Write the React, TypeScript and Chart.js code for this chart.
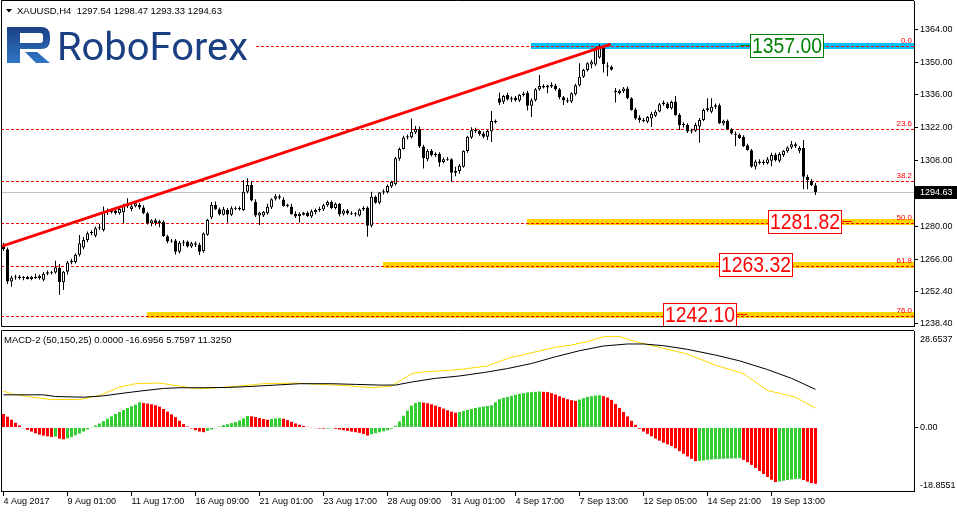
import React, { useEffect, useRef } from 'react';
import { Chart, registerables } from 'chart.js';

Chart.register(...registerables);

const FONT = "'Liberation Sans', Arial, sans-serif";

// ---------- price data (H4 candles, bar index = position) ----------
const opens = [
  1272.0, 1270.2, 1256.5, 1258.2, 1258.6, 1258.0, 1258.4, 1257.6, 1258.5, 1258.0,
  1257.2, 1259.8, 1260.4, 1260.3, 1262.4, 1256.2, 1260.7, 1264.6, 1264.8, 1267.9,
  1271.0, 1274.2, 1277.1, 1276.0, 1279.2, 1278.5, 1286.0, 1286.6, 1286.8, 1285.6,
  1286.0, 1288.6, 1287.4, 1288.6, 1289.2, 1288.0, 1285.6, 1281.3, 1282.6, 1281.4,
  1282.0, 1275.8, 1273.5, 1274.0, 1269.2, 1273.0, 1273.4, 1271.4, 1272.8, 1272.2,
  1269.4, 1276.4, 1283.8, 1289.1, 1287.3, 1285.0, 1287.0, 1285.0, 1287.7, 1287.3,
  1287.0, 1294.8, 1297.6, 1290.4, 1284.6, 1284.6, 1285.6, 1288.2, 1291.8, 1292.8,
  1291.4, 1288.7, 1288.4, 1285.4, 1284.4, 1285.0, 1285.8, 1284.2, 1286.0, 1287.0,
  1287.2, 1289.0, 1290.4, 1287.8, 1289.6, 1285.4, 1286.8, 1285.6, 1285.2, 1284.6,
  1287.2, 1288.0, 1280.3, 1292.6, 1290.1, 1294.4, 1294.6, 1297.0, 1298.0, 1308.8,
  1313.0, 1317.9, 1318.0, 1320.0, 1321.5, 1314.0, 1308.6, 1312.2, 1310.4, 1311.0,
  1307.4, 1308.6, 1308.6, 1302.8, 1303.6, 1305.4, 1312.1, 1317.9, 1321.0, 1320.6,
  1319.6, 1318.2, 1320.4, 1324.9, 1334.6, 1333.1, 1336.0, 1334.1, 1334.8, 1333.6,
  1336.0, 1336.8, 1331.4, 1333.8, 1338.4, 1339.8, 1339.2, 1340.4, 1340.0, 1338.4,
  1335.0, 1333.8, 1333.2, 1336.3, 1340.2, 1343.8, 1346.6, 1349.0, 1349.0, 1352.0,
  1356.2, 1348.6, 1348.0, 1337.8, 1336.8, 1337.6, 1338.8, 1334.6, 1329.8, 1326.4,
  1325.3, 1324.6, 1326.0, 1327.2, 1329.0, 1332.0, 1332.4, 1330.3, 1333.2, 1327.5,
  1323.2, 1323.2, 1320.4, 1320.8, 1322.6, 1325.3, 1329.6, 1328.8, 1331.0, 1331.6,
  1323.8, 1325.0, 1321.4, 1319.4, 1319.0, 1318.2, 1314.6, 1312.4, 1305.4, 1307.6,
  1307.0, 1307.0, 1308.0, 1310.6, 1308.0, 1310.4, 1312.0, 1313.6, 1315.0, 1312.2,
  1313.4, 1301.2, 1299.4, 1297.54,
];
const highs = [
  1273.0, 1271.0, 1259.0, 1259.4, 1259.2, 1258.8, 1259.0, 1258.9, 1259.8, 1259.5,
  1260.5, 1261.2, 1261.0, 1265.3, 1264.0, 1261.0, 1265.3, 1266.2, 1268.4, 1276.3,
  1275.5, 1277.8, 1278.4, 1279.9, 1281.0, 1288.5, 1287.6, 1287.5, 1287.6, 1288.0,
  1289.6, 1292.0, 1289.8, 1290.6, 1290.0, 1289.0, 1286.2, 1283.0, 1283.4, 1282.8,
  1282.6, 1276.4, 1274.6, 1274.6, 1273.8, 1274.2, 1274.0, 1273.4, 1273.6, 1273.0,
  1277.4, 1283.2, 1290.4, 1290.6, 1288.0, 1288.4, 1287.8, 1288.6, 1288.5, 1288.6,
  1299.8, 1300.5, 1299.2, 1291.6, 1286.2, 1286.6, 1289.6, 1292.0, 1293.8, 1293.6,
  1292.4, 1289.6, 1289.6, 1286.4, 1286.0, 1286.2, 1286.4, 1287.2, 1287.6, 1288.4,
  1289.6, 1291.0, 1291.0, 1290.2, 1290.0, 1287.4, 1287.4, 1286.4, 1286.0, 1287.6,
  1288.6, 1288.6, 1294.8, 1293.2, 1294.6, 1295.8, 1297.8, 1299.4, 1309.6, 1313.6,
  1318.6, 1319.2, 1326.0, 1322.8, 1322.6, 1314.8, 1313.0, 1313.0, 1311.6, 1311.6,
  1309.4, 1309.6, 1309.0, 1305.4, 1306.6, 1312.4, 1318.6, 1322.2, 1322.0, 1321.2,
  1320.4, 1321.2, 1329.2, 1325.6, 1337.1, 1336.0, 1337.0, 1335.4, 1335.6, 1336.4,
  1337.4, 1337.8, 1334.6, 1339.0, 1344.5, 1340.6, 1340.4, 1341.4, 1340.8, 1339.0,
  1335.6, 1334.8, 1337.2, 1340.8, 1349.5, 1347.2, 1350.0, 1351.0, 1356.4, 1357.6,
  1357.0, 1350.0, 1348.6, 1339.0, 1338.4, 1339.4, 1339.6, 1335.0, 1330.6, 1327.4,
  1326.2, 1327.0, 1328.8, 1329.6, 1332.6, 1333.6, 1333.0, 1333.6, 1335.6, 1328.2,
  1324.4, 1324.0, 1321.6, 1324.2, 1326.2, 1330.2, 1334.6, 1334.6, 1332.4, 1332.4,
  1325.4, 1325.6, 1321.8, 1320.4, 1319.6, 1318.8, 1315.2, 1313.0, 1308.4, 1308.6,
  1308.4, 1309.6, 1311.4, 1311.4, 1311.6, 1312.6, 1314.2, 1316.4, 1315.8, 1314.2,
  1316.8, 1302.0, 1300.2, 1298.47,
];
const lows = [
  1269.5, 1255.4, 1254.3, 1257.2, 1257.4, 1257.0, 1257.3, 1257.0, 1257.6, 1257.2,
  1256.6, 1259.2, 1259.5, 1259.8, 1250.8, 1252.9, 1259.5, 1263.8, 1264.2, 1267.2,
  1270.2, 1273.2, 1276.2, 1275.4, 1278.4, 1277.8, 1284.8, 1285.5, 1285.0, 1285.0,
  1281.3, 1287.8, 1286.4, 1288.0, 1287.2, 1285.2, 1280.8, 1280.0, 1280.4, 1279.6,
  1275.6, 1272.8, 1273.0, 1268.0, 1268.4, 1271.6, 1271.0, 1270.8, 1271.2, 1267.8,
  1268.8, 1276.0, 1283.0, 1287.0, 1284.6, 1284.6, 1281.6, 1284.4, 1287.0, 1286.8,
  1286.6, 1294.0, 1290.6, 1284.0, 1280.6, 1284.0, 1285.0, 1287.4, 1291.0, 1291.4,
  1288.4, 1288.2, 1285.0, 1283.6, 1281.6, 1284.6, 1284.0, 1283.6, 1285.2, 1286.2,
  1286.6, 1288.4, 1287.4, 1287.2, 1284.2, 1284.6, 1285.0, 1284.8, 1284.2, 1284.2,
  1286.6, 1275.6, 1279.6, 1289.6, 1289.4, 1293.6, 1294.0, 1296.4, 1297.4, 1308.0,
  1312.8, 1317.0, 1317.4, 1319.4, 1313.4, 1304.7, 1307.8, 1309.8, 1309.6, 1305.4,
  1306.8, 1308.0, 1299.0, 1301.4, 1302.4, 1305.0, 1311.4, 1317.2, 1319.8, 1318.6,
  1317.6, 1316.8, 1316.0, 1323.8, 1331.7, 1332.2, 1333.6, 1333.0, 1333.2, 1333.0,
  1335.4, 1329.4, 1326.6, 1333.2, 1337.8, 1338.8, 1336.7, 1339.0, 1337.8, 1334.2,
  1331.7, 1332.6, 1332.6, 1335.8, 1339.6, 1343.2, 1346.0, 1347.4, 1348.4, 1351.4,
  1345.6, 1344.0, 1346.4, 1332.8, 1336.2, 1336.8, 1334.2, 1329.4, 1325.4, 1324.2,
  1324.4, 1323.9, 1322.4, 1326.6, 1328.6, 1331.4, 1330.0, 1329.8, 1327.2, 1321.1,
  1322.0, 1319.8, 1319.6, 1320.2, 1315.6, 1324.8, 1328.8, 1328.2, 1330.0, 1323.6,
  1323.0, 1321.0, 1319.2, 1314.2, 1317.2, 1313.8, 1312.2, 1305.0, 1304.2, 1306.4,
  1306.2, 1306.4, 1305.6, 1307.6, 1307.2, 1309.6, 1311.4, 1313.0, 1313.4, 1311.2,
  1295.8, 1295.8, 1297.2, 1293.33,
];
const closes = [
  1270.2, 1256.5, 1258.2, 1258.6, 1258.0, 1258.4, 1257.6, 1258.5, 1258.0, 1259.0,
  1259.8, 1260.4, 1260.0, 1262.6, 1256.2, 1260.7, 1264.6, 1265.3, 1267.9, 1272.8,
  1274.2, 1277.1, 1277.6, 1279.2, 1279.6, 1286.3, 1286.6, 1286.0, 1285.6, 1287.4,
  1288.8, 1289.6, 1288.6, 1289.8, 1288.0, 1285.6, 1281.3, 1282.6, 1281.4, 1282.2,
  1275.8, 1273.5, 1274.0, 1269.2, 1273.0, 1273.4, 1271.4, 1272.8, 1272.2, 1269.2,
  1277.0, 1282.7, 1289.1, 1287.3, 1285.2, 1287.3, 1285.0, 1287.7, 1287.3, 1287.9,
  1294.8, 1297.6, 1291.0, 1284.6, 1285.8, 1286.2, 1288.4, 1291.6, 1292.8, 1292.2,
  1288.7, 1289.0, 1285.2, 1284.2, 1285.4, 1285.8, 1284.4, 1286.4, 1287.0, 1287.4,
  1289.0, 1290.4, 1287.8, 1289.6, 1285.2, 1286.8, 1285.6, 1285.2, 1285.6, 1287.2,
  1287.8, 1280.3, 1292.6, 1290.1, 1294.4, 1295.0, 1297.2, 1299.0, 1309.0, 1313.0,
  1317.9, 1318.4, 1320.3, 1321.5, 1314.0, 1309.0, 1312.2, 1310.4, 1311.0, 1307.2,
  1308.6, 1308.2, 1302.8, 1303.6, 1305.8, 1312.1, 1318.2, 1321.0, 1320.6, 1319.4,
  1318.2, 1320.6, 1324.9, 1324.4, 1332.7, 1335.6, 1334.1, 1334.6, 1333.8, 1336.0,
  1336.6, 1331.4, 1333.8, 1338.4, 1339.8, 1339.2, 1340.0, 1339.6, 1338.4, 1335.0,
  1333.8, 1333.2, 1336.7, 1340.2, 1343.8, 1346.6, 1349.5, 1350.2, 1355.4, 1356.4,
  1349.2, 1348.0, 1346.8, 1337.2, 1337.8, 1338.8, 1334.6, 1329.6, 1326.0, 1325.3,
  1324.8, 1326.6, 1328.0, 1328.8, 1332.0, 1332.8, 1330.3, 1333.0, 1327.5, 1323.2,
  1323.6, 1320.4, 1321.0, 1323.2, 1325.3, 1329.6, 1330.3, 1331.0, 1331.6, 1323.9,
  1325.0, 1321.4, 1319.6, 1319.0, 1317.6, 1314.2, 1312.6, 1305.4, 1307.6, 1307.0,
  1307.4, 1308.6, 1310.4, 1308.2, 1310.8, 1312.2, 1313.6, 1315.0, 1314.2, 1313.4,
  1301.2, 1299.8, 1297.5, 1294.63,
];

// ---------- MACD-2 (50,150,25) ----------
const histValues = [
  4.0, 3.2, 2.3, 1.4, 0.6, -0.2, -0.7, -1.2, -1.7, -2.1,
  -2.4, -2.6, -2.8, -2.7, -3.3, -3.5, -3.2, -2.8, -2.3, -1.8,
  -1.2, -0.6, 0.1, 0.6, 1.2, 1.9, 2.6, 3.3, 4.0, 4.6,
  5.2, 5.8, 6.3, 6.8, 7.5, 7.3, 7.1, 6.9, 6.6, 6.2,
  5.5, 4.7, 3.9, 3.1, 2.0, 1.0, 0.3, -0.3, -0.8, -1.2,
  -1.4, -1.0, -0.6, -0.2, 0.3, 0.7, 1.0, 1.3, 1.6, 2.1,
  2.7, 3.4, 3.3, 3.1, 2.8, 2.5, 2.3, 2.5, 2.7, 2.8,
  2.6, 2.2, 1.7, 1.2, 0.8, 0.5, 0.2, -0.1, -0.2, -0.3,
  -0.35, -0.3, -0.25, -0.4, -0.6, -0.8, -1.0, -1.2, -1.4, -1.6,
  -1.9, -2.4, -2.0, -1.7, -1.4, -1.1, -0.8, -0.4, 0.5, 1.8,
  3.5, 5.0, 6.5, 7.3, 7.6, 7.4, 7.2, 6.9, 6.5, 6.1,
  5.6, 5.1, 4.7, 4.4, 4.6, 4.9, 5.2, 5.5, 5.8, 6.0,
  6.2, 6.4, 6.6, 7.5, 8.4, 8.8, 9.1, 9.4, 9.7, 10.0,
  10.2, 10.4, 10.5, 10.6, 10.7, 10.6, 10.5, 10.2, 9.8, 9.3,
  8.8, 8.4, 8.1, 7.9, 8.3, 8.7, 9.1, 9.3, 9.5, 9.6,
  9.3, 8.9, 8.2, 7.0, 5.8, 4.6, 3.3, 2.0, 0.8, -0.4,
  -1.2, -1.9, -2.6, -3.3, -3.9, -4.5, -5.0, -5.5, -6.2, -7.0,
  -7.8, -8.6, -9.3, -10.0, -9.9, -9.8, -9.6, -9.5, -9.4, -9.35,
  -9.3, -9.25, -9.2, -9.15, -9.1, -9.6, -10.3, -11.1, -12.0, -12.9,
  -13.8, -14.7, -15.5, -16.2, -16.0, -15.8, -15.6, -15.4, -15.3, -15.2,
  -15.6, -16.1, -16.5, -16.6956,
];
const blackLineIdx = [0, 10, 13, 20, 25, 30, 34, 40, 44, 50, 56, 62, 68, 74, 82, 88, 94, 98, 102, 108, 114, 120, 126, 132, 138, 144, 150, 156, 160, 165, 171, 178, 184, 191, 197, 203];
const blackLineVals = [9.7, 9.7, 9.2, 9.0, 9.4, 10.2, 10.8, 11.6, 11.8, 11.8, 11.9, 12.2, 12.6, 13.0, 13.0, 12.8, 12.6, 12.6, 13.5, 14.6, 15.3, 16.3, 17.5, 19.0, 21.0, 22.8, 24.2, 24.8, 24.8, 24.3, 23.2, 21.5, 19.8, 17.2, 14.6, 11.325];
const goldLineIdx = [0, 2, 7, 12, 19, 24, 29, 33, 39, 44, 48, 52, 59, 65, 73, 79, 85, 92, 97, 102, 105, 112, 116, 121, 126, 132, 138, 142, 146, 150, 154, 158, 165, 171, 178, 185, 191, 198, 203];
const goldLineVals = [10.8, 10.0, 9.0, 8.3, 8.3, 9.5, 12.0, 13.0, 13.2, 12.3, 11.5, 11.7, 12.3, 13.0, 13.2, 12.8, 12.5, 11.8, 12.3, 16.0, 16.5, 17.0, 17.5, 18.3, 20.5, 22.2, 23.8, 24.5, 25.5, 27.0, 27.0, 25.5, 23.5, 21.8, 18.5, 16.0, 11.0, 9.0, 5.7597];

// ---------- axes / annotations ----------
const priceTicks = [1364, 1350, 1336, 1322, 1308, 1280, 1266, 1252.4, 1238.4];
const lastPrice = 1294.63;
const macdTickValues = [28.6537, 0, -18.8551];
const macdTickLabels = ['28.6537', '0.00', '-18.8551'];
const timeTickIdx = [0, 16, 32, 48, 64, 80, 96, 112, 128, 144, 160, 176, 192];
const timeTickLabels = ['4 Aug 2017', '9 Aug 01:00', '11 Aug 17:00', '16 Aug 09:00', '21 Aug 01:00', '23 Aug 17:00', '28 Aug 09:00', '31 Aug 01:00', '4 Sep 17:00', '7 Sep 13:00', '12 Sep 05:00', '14 Sep 21:00', '19 Sep 13:00'];

const fibRatios = ['0.0', '23.6', '38.2', '50.0', '61.8', '76.0'];
const fibLevels = [1357.0, 1321.4, 1299.3, 1281.5, 1263.3, 1241.9];
const bandLevels = [1357.0, 1281.82, 1263.32, 1242.1];
const bandStartIdx = [131.9, 130.9, 94.9, 35.9];
const bandColors = ['#00BFFF', '#FFD400', '#FFD400', '#FFD400'];
const labelTexts = ['1357.00', '1281.82', '1263.32', '1242.10'];
const labelStartIdx = [186.6, 191.05, 178.9, 164.95];
const labelColors = ['#008000', '#FF0000', '#FF0000', '#FF0000'];
const labelDashSide = ['left', 'right', 'none', 'right'];
const trendIdx = [-1, 151.8];
const trendPrice = [1271.2, 1357.7];

const titleText = 'XAUUSD,H4  1297.54 1298.47 1293.33 1294.63';
const macdText = 'MACD-2 (50,150,25) 0.0000 -16.6956 5.7597 11.3250';

const X_MIN = -0.625;
const X_MAX = 227.625;
const PRICE_MIN = 1237.53;
const PRICE_MAX = 1376.06;

function drawLogo(ctx: CanvasRenderingContext2D) {
  ctx.save();
  ctx.fillStyle = '#FFFFFF';
  ctx.fillRect(2, 19, 252, 48);
  const g = ctx.createLinearGradient(0, 26, 0, 64);
  g.addColorStop(0, '#1a3f82');
  g.addColorStop(1, '#2f78c8');
  ctx.fillStyle = g;
  ctx.beginPath();
  ctx.moveTo(7, 27);
  ctx.lineTo(41, 27);
  ctx.quadraticCurveTo(50, 27, 50, 36);
  ctx.lineTo(50, 40);
  ctx.quadraticCurveTo(50, 49, 41, 49);
  ctx.lineTo(20, 49);
  ctx.lineTo(20, 63);
  ctx.lineTo(7, 63);
  ctx.closePath();
  ctx.moveTo(20, 33);
  ctx.lineTo(20, 43);
  ctx.lineTo(40, 43);
  ctx.quadraticCurveTo(43, 43, 43, 40);
  ctx.lineTo(43, 36);
  ctx.quadraticCurveTo(43, 33, 40, 33);
  ctx.closePath();
  ctx.fill('evenodd');
  ctx.beginPath();
  ctx.moveTo(25, 52);
  ctx.lineTo(37, 52);
  ctx.lineTo(50, 63);
  ctx.lineTo(36, 63);
  ctx.closePath();
  ctx.fill();
  ctx.font = "39px Roboto, 'Liberation Sans', sans-serif";
  ctx.textBaseline = 'alphabetic';
  ctx.textAlign = 'left';
  const w = ctx.measureText('RoboForex').width;
  ctx.translate(57, 60);
  ctx.scale(191 / w, 1);
  ctx.fillText('RoboForex', 0, 0);
  ctx.restore();
}

const mainDecor = {
  id: 'mainDecor',
  beforeDraw(chart: any) {
    const ctx = chart.ctx;
    ctx.save();
    ctx.fillStyle = '#FFFFFF';
    ctx.fillRect(0, 0, chart.width, chart.height);
    ctx.restore();
  },
  beforeDatasetsDraw(chart: any) {
    // level bands, fibonacci levels and last-price line (snapped to whole pixels)
    const ctx: CanvasRenderingContext2D = chart.ctx;
    const xs = chart.scales.x;
    const ys = chart.scales.y;
    const area = chart.chartArea;
    ctx.save();
    ctx.beginPath();
    ctx.rect(area.left, area.top, area.right - area.left, area.bottom - area.top);
    ctx.clip();
    bandLevels.forEach((lv, i) => {
      const y = Math.round(ys.getPixelForValue(lv));
      const x0 = Math.round(xs.getPixelForValue(bandStartIdx[i]));
      ctx.fillStyle = bandColors[i];
      ctx.fillRect(x0, y - 3, area.right - x0, 6);
    });
    ctx.strokeStyle = '#C0C0C0';
    ctx.lineWidth = 1;
    ctx.beginPath();
    const yl = Math.round(ys.getPixelForValue(lastPrice)) + 0.5;
    ctx.moveTo(area.left, yl);
    ctx.lineTo(area.right, yl);
    ctx.stroke();
    ctx.strokeStyle = '#FF0000';
    ctx.setLineDash([3, 2]);
    fibLevels.forEach((lv) => {
      const y = Math.round(ys.getPixelForValue(lv)) + 0.5;
      ctx.beginPath();
      ctx.moveTo(area.left, y);
      ctx.lineTo(area.right, y);
      ctx.stroke();
    });
    ctx.restore();
  },
  afterDatasetsDraw(chart: any) {
    const ctx: CanvasRenderingContext2D = chart.ctx;
    const xs = chart.scales.x;
    const ys = chart.scales.y;
    const area = chart.chartArea;
    ctx.save();
    ctx.beginPath();
    ctx.rect(area.left, area.top, area.right - area.left, area.bottom - area.top);
    ctx.clip();
    // fib ratio labels
    ctx.font = `8px ${FONT}`;
    ctx.fillStyle = '#FF0000';
    ctx.textAlign = 'right';
    ctx.textBaseline = 'bottom';
    fibLevels.forEach((lv, i) => {
      ctx.fillText(fibRatios[i], 912, Math.round(ys.getPixelForValue(lv)) - 1);
    });
    // price label boxes
    labelTexts.forEach((t, i) => {
      const x0 = Math.round(xs.getPixelForValue(labelStartIdx[i]));
      const yc = Math.round(ys.getPixelForValue(bandLevels[i]));
      const w = 74;
      const h = 24;
      const y0 = yc - 12;
      ctx.fillStyle = '#FFFFFF';
      ctx.fillRect(x0, y0, w, h);
      ctx.strokeStyle = labelColors[i];
      ctx.lineWidth = 1;
      ctx.strokeRect(x0 + 0.5, y0 + 0.5, w - 1, h - 1);
      ctx.fillStyle = labelColors[i];
      if (labelDashSide[i] === 'left') ctx.fillRect(x0 - 10, yc - 1, 10, 1);
      if (labelDashSide[i] === 'right') ctx.fillRect(x0 + w, yc - 1, 10, 1);
      ctx.save();
      ctx.font = `22px ${FONT}`;
      ctx.textAlign = 'center';
      ctx.textBaseline = 'middle';
      const tw = ctx.measureText(t).width;
      ctx.translate(x0 + w / 2, yc + 1);
      ctx.scale(70 / tw, 1);
      ctx.fillText(t, 0, 0);
      ctx.restore();
    });
    ctx.restore();

    drawLogo(ctx);

    // title
    ctx.save();
    ctx.fillStyle = '#000000';
    ctx.beginPath();
    ctx.moveTo(6, 9);
    ctx.lineTo(12, 9);
    ctx.lineTo(9, 12.5);
    ctx.closePath();
    ctx.fill();
    ctx.font = `9.5px ${FONT}`;
    ctx.textAlign = 'left';
    ctx.textBaseline = 'middle';
    ctx.fillText(titleText, 17, 11);
    // frame
    ctx.strokeStyle = '#000000';
    ctx.lineWidth = 1;
    ctx.beginPath();
    ctx.moveTo(area.left + 0.5, area.top - 0.5);
    ctx.lineTo(area.right, area.top - 0.5);
    ctx.moveTo(area.left + 0.5, area.top - 0.5);
    ctx.lineTo(area.left + 0.5, area.bottom + 0.5);
    ctx.lineTo(area.right, area.bottom + 0.5);
    ctx.stroke();
    ctx.restore();
  },
  afterDraw(chart: any) {
    const ctx: CanvasRenderingContext2D = chart.ctx;
    const ys = chart.scales.y;
    const y = Math.round(ys.getPixelForValue(lastPrice));
    ctx.save();
    ctx.fillStyle = '#000000';
    ctx.fillRect(915, y - 6, 42, 13);
    ctx.fillStyle = '#FFFFFF';
    ctx.font = `9px ${FONT}`;
    ctx.textAlign = 'left';
    ctx.textBaseline = 'middle';
    ctx.fillText(lastPrice.toFixed(2), 920, y + 0.5);
    ctx.restore();
  },
};

const macdDecor = {
  id: 'macdDecor',
  beforeDraw(chart: any) {
    const ctx = chart.ctx;
    ctx.save();
    ctx.fillStyle = '#FFFFFF';
    ctx.fillRect(0, 0, chart.width, chart.height);
    ctx.restore();
  },
  afterDatasetsDraw(chart: any) {
    const ctx: CanvasRenderingContext2D = chart.ctx;
    const area = chart.chartArea;
    ctx.save();
    ctx.fillStyle = '#000000';
    ctx.font = `9.5px ${FONT}`;
    ctx.textAlign = 'left';
    ctx.textBaseline = 'middle';
    ctx.fillText(macdText, 4, 10.5);
    ctx.strokeStyle = '#000000';
    ctx.lineWidth = 1;
    ctx.beginPath();
    ctx.moveTo(area.right, area.top - 0.5);
    ctx.lineTo(area.left + 0.5, area.top - 0.5);
    ctx.lineTo(area.left + 0.5, area.bottom + 0.5);
    ctx.stroke();
    ctx.restore();
  },
};

export default function App() {
  const mainRef = useRef<HTMLCanvasElement>(null);
  const macdRef = useRef<HTMLCanvasElement>(null);

  useEffect(() => {
    const candleFill = closes.map((c, i) => (c >= opens[i] ? '#FFFFFF' : '#000000'));
    const histColors = histValues.map((v, i) => (i > 0 && v > histValues[i - 1] ? '#32CD32' : '#FF0000'));

    const datasets: any[] = [
      {
        type: 'line',
        data: trendIdx.map((x, i) => ({ x, y: trendPrice[i] })),
        borderColor: '#FF0000',
        borderWidth: 3,
        pointRadius: 0,
        clip: 0,
        order: 0,
      },
      {
        type: 'bar',
        data: opens.map((o, i) => ({ x: i, y: [o, closes[i]] })),
        backgroundColor: candleFill,
        borderColor: '#000000',
        borderWidth: 1,
        borderSkipped: false,
        barThickness: 3,
        minBarLength: 1,
        grouped: false,
        inflateAmount: 0,
        order: 1,
      },
      {
        type: 'bar',
        data: highs.map((h, i) => ({ x: i, y: [lows[i], h] })),
        backgroundColor: '#000000',
        borderWidth: 0,
        barThickness: 1,
        grouped: false,
        inflateAmount: 0,
        order: 2,
      },
    ];

    const mainChart = new Chart(mainRef.current as HTMLCanvasElement, {
      type: 'bar',
      data: { datasets },
      options: {
        responsive: false,
        animation: false,
        devicePixelRatio: 1,
        events: [],
        layout: { padding: { left: 1, right: 0, top: 1, bottom: 2 } },
        plugins: { legend: { display: false }, tooltip: { enabled: false } },
        scales: {
          x: {
            type: 'linear',
            display: false,
            min: X_MIN,
            max: X_MAX,
            offset: false,
            grid: { offset: false },
          },
          y: {
            type: 'linear',
            position: 'right',
            min: PRICE_MIN,
            max: PRICE_MAX,
            afterBuildTicks: (s: any) => {
              s.ticks = priceTicks.map((v) => ({ value: v }));
            },
            afterFit: (s: any) => {
              s.width = 43;
              s.paddingTop = 0;
              s.paddingBottom = 0;
            },
            ticks: {
              autoSkip: false,
              padding: 2,
              color: '#000000',
              font: { family: FONT, size: 9 },
              callback: (v: any) => Number(v).toFixed(2),
            },
            grid: { drawOnChartArea: false, tickLength: 4, tickColor: '#000000', color: '#000000' },
            border: { display: true, color: '#000000', width: 1 },
          },
        },
      } as any,
      plugins: [mainDecor],
    } as any);

    const macdChart = new Chart(macdRef.current as HTMLCanvasElement, {
      type: 'bar',
      data: {
        datasets: [
          {
            type: 'line',
            data: blackLineIdx.map((x, i) => ({ x, y: blackLineVals[i] })),
            borderColor: '#000000',
            borderWidth: 1,
            pointRadius: 0,
            clip: 0,
            order: 0,
          },
          {
            type: 'line',
            data: goldLineIdx.map((x, i) => ({ x, y: goldLineVals[i] })),
            borderColor: '#FFD700',
            borderWidth: 1,
            pointRadius: 0,
            clip: 0,
            order: 1,
          },
          {
            type: 'bar',
            data: histValues.map((v, i) => ({ x: i, y: v })),
            backgroundColor: histColors,
            borderWidth: 0,
            barThickness: 3,
            grouped: false,
            inflateAmount: 0,
            order: 2,
          },
        ] as any,
      },
      options: {
        responsive: false,
        animation: false,
        devicePixelRatio: 1,
        events: [],
        layout: { padding: { left: 1, right: 0, top: 1, bottom: 0 } },
        plugins: { legend: { display: false }, tooltip: { enabled: false } },
        scales: {
          x: {
            type: 'linear',
            position: 'bottom',
            min: X_MIN,
            max: X_MAX,
            offset: false,
            afterBuildTicks: (s: any) => {
              s.ticks = timeTickIdx.map((v) => ({ value: v }));
            },
            afterFit: (s: any) => {
              s.height = 22;
              s.paddingLeft = 0;
              s.paddingRight = 0;
            },
            ticks: {
              autoSkip: false,
              maxRotation: 0,
              minRotation: 0,
              align: 'start',
              padding: 0,
              color: '#000000',
              font: { family: FONT, size: 9 },
              callback: (v: any) => {
                const k = timeTickIdx.indexOf(Number(v));
                return k >= 0 ? timeTickLabels[k] : '';
              },
            },
            grid: { offset: false, drawOnChartArea: false, tickLength: 5, tickColor: '#000000', color: '#000000' },
            border: { display: true, color: '#000000', width: 1 },
          },
          y: {
            type: 'linear',
            position: 'right',
            min: macdTickValues[2],
            max: macdTickValues[0],
            afterBuildTicks: (s: any) => {
              s.ticks = macdTickValues.map((v) => ({ value: v }));
            },
            afterFit: (s: any) => {
              s.width = 43;
              s.paddingTop = 0;
              s.paddingBottom = 0;
            },
            ticks: {
              autoSkip: false,
              padding: 2,
              color: '#000000',
              font: (c: any) => {
                const v = c && c.tick ? c.tick.value : 0;
                return { family: FONT, size: 9, lineHeight: v > 1 ? '18px' : v < -1 ? '11px' : 1.2 };
              },
              callback: (v: any) => {
                const k = macdTickValues.indexOf(Number(v));
                if (k === 0) return ['', macdTickLabels[0]];
                if (k === 2) return [macdTickLabels[2], ''];
                return k >= 0 ? macdTickLabels[k] : '';
              },
            },
            grid: {
              drawOnChartArea: false,
              tickLength: 4,
              tickColor: (c: any) => (c && c.tick && c.tick.value === 0 ? '#000000' : 'rgba(0,0,0,0)'),
              color: '#000000',
            },
            border: { display: true, color: '#000000', width: 1 },
          },
        },
      } as any,
      plugins: [macdDecor],
    } as any);

    return () => {
      mainChart.destroy();
      macdChart.destroy();
    };
  }, []);

  return (
    <div style={{ position: 'absolute', left: 0, top: 0, width: 957, height: 513, background: '#FFFFFF', overflow: 'hidden' }}>
      <canvas ref={mainRef} width={957} height={328} style={{ position: 'absolute', left: 0, top: 0, width: 957, height: 328 }} />
      <canvas ref={macdRef} width={957} height={183} style={{ position: 'absolute', left: 0, top: 330, width: 957, height: 183 }} />
    </div>
  );
}
